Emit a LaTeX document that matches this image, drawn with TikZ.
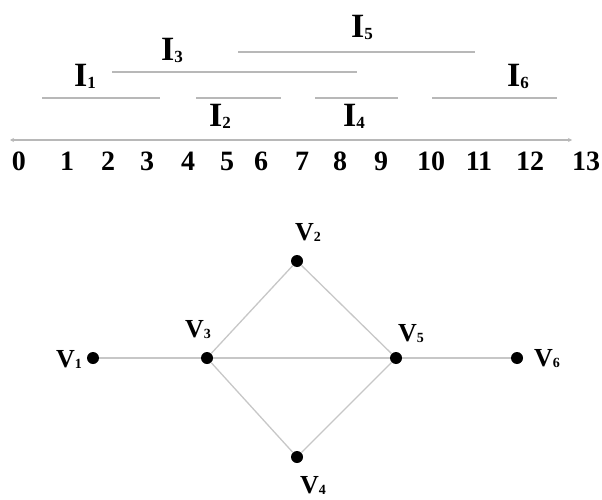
\documentclass[tikz,border=0pt]{standalone}
\usepackage{fontspec}
\setmainfont{Liberation Serif}
\usetikzlibrary{arrows.meta}
\newcommand{\Ilab}[2]{{\fontsize{34}{34}\selectfont\bfseries #1\raisebox{-2pt}{\fontsize{17}{17}\selectfont\bfseries #2}}}
\newcommand{\Vlab}[2]{{\fontsize{26}{26}\selectfont\bfseries #1\raisebox{-1pt}{\fontsize{14}{14}\selectfont\bfseries #2}}}
\tikzset{
  seg/.style={draw=black!28, line width=1.1pt},
  edge/.style={draw=black!22, line width=1.3pt},
  num/.style={font=\fontsize{28}{28}\selectfont\bfseries, inner sep=0pt},
  ilab/.style={inner sep=0pt},
  vdot/.style={circle, fill=black, inner sep=0pt, minimum size=12pt},
}
\begin{document}
\begin{tikzpicture}[x=1pt,y=-1pt]
\useasboundingbox (0,0) rectangle (602,500);
% interval segments
\coordinate (i5a) at (238,52); \coordinate (i5b) at (475,52);
\coordinate (i3a) at (112,72); \coordinate (i3b) at (357,72);
\coordinate (i1a) at (42,98); \coordinate (i1b) at (160,98);
\coordinate (i2a) at (196,98); \coordinate (i2b) at (281,98);
\coordinate (i4a) at (315,98); \coordinate (i4b) at (398,98);
\coordinate (i6a) at (432,98); \coordinate (i6b) at (557,98);
\draw[seg] (i5a) -- (i5b);
\draw[seg] (i3a) -- (i3b);
\draw[seg] (i1a) -- (i1b);
\draw[seg] (i2a) -- (i2b);
\draw[seg] (i4a) -- (i4b);
\draw[seg] (i6a) -- (i6b);
\node[ilab] (l5) at (362,27) {\Ilab{I}{5}};
\node[ilab] (l3) at (172,50) {\Ilab{I}{3}};
\node[ilab] (l1) at (85,76) {\Ilab{I}{1}};
\node[ilab] (l6) at (518,76) {\Ilab{I}{6}};
\node[ilab] (l2) at (220,116) {\Ilab{I}{2}};
\node[ilab] (l4) at (354,116) {\Ilab{I}{4}};
% axis
\coordinate (ax0) at (10,140); \coordinate (ax1) at (572,140);
\draw[seg, {Stealth[length=4pt,width=4pt]}-{Stealth[length=4pt,width=4pt]}] (ax0) -- (ax1);
\foreach \n/\x in {0/19,1/67,2/108,3/147,4/188,5/227,6/261,7/302,8/340,9/381,10/431,11/479,12/530,13/586}
  \node[num] (n\n) at (\x,161) {\n};
% graph
\node[vdot] (v1) at (93,358) {};
\node[vdot] (v2) at (297,261) {};
\node[vdot] (v3) at (207,358) {};
\node[vdot] (v4) at (297,457) {};
\node[vdot] (v5) at (396,358) {};
\node[vdot] (v6) at (517,358) {};
\draw[edge] (v1) -- (v3);
\draw[edge] (v3) -- (v5);
\draw[edge] (v5) -- (v6);
\draw[edge] (v3) -- (v2);
\draw[edge] (v2) -- (v5);
\draw[edge] (v3) -- (v4);
\draw[edge] (v4) -- (v5);
\node[ilab] (t1) at (69,359) {\Vlab{V}{1}};
\node[ilab] (t2) at (308,232) {\Vlab{V}{2}};
\node[ilab] (t3) at (198,330) {\Vlab{V}{3}};
\node[ilab] (t4) at (313,485) {\Vlab{V}{4}};
\node[ilab] (t5) at (411,334) {\Vlab{V}{5}};
\node[ilab] (t6) at (547,359) {\Vlab{V}{6}};
\end{tikzpicture}
\end{document}
